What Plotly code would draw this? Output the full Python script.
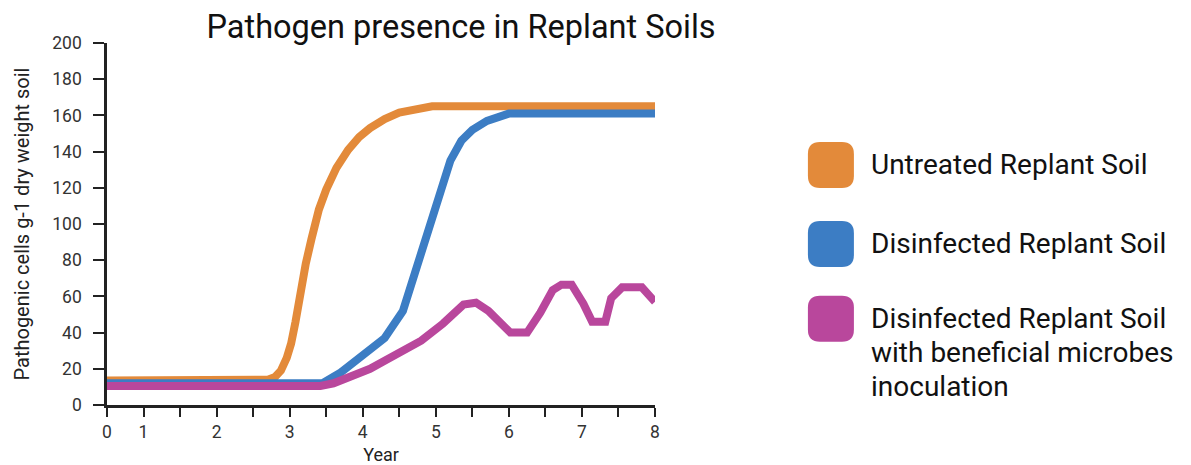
import plotly.graph_objects as go

# series
series_names = ["Untreated Replant Soil",
                "Disinfected Replant Soil",
                "Disinfected Replant Soil<br>with beneficial microbes<br>inoculation"]
colors = ["#E38A3A", "#3C7DC4", "#B9479C"]

untreated_year = [0.5, 2.6, 2.7, 2.8, 2.88, 2.96, 3.02, 3.08, 3.16, 3.22, 3.3, 3.4, 3.5,
                  3.64, 3.8, 3.95, 4.1, 4.3, 4.5, 4.7, 4.95, 8.0]
untreated_cells = [13.5, 13.5, 14, 15.5, 19, 26, 34, 46, 66, 78, 92, 108, 119,
                   131, 141, 148, 153, 158, 161.5, 163.5, 165, 165]

disinfected_year = [0.5, 3.45, 3.7, 4.0, 4.3, 4.55, 4.75, 5.0, 5.2, 5.35, 5.5, 5.7, 6.0, 8.0]
disinfected_cells = [12, 12, 18, 27, 37, 52, 78, 112, 135, 146, 152, 157, 161, 161]

inoculated_year = [0.5, 3.42, 3.6, 3.85, 4.1, 4.3, 4.55, 4.8, 5.1, 5.38, 5.55, 5.72, 6.02,
                   6.25, 6.43, 6.6, 6.72, 6.86, 7.02, 7.14, 7.32, 7.4, 7.55, 7.82, 8.0]
inoculated_cells = [10.5, 10.5, 12, 15.5, 20, 24.5, 30, 35.5, 45, 55.5, 56.5, 52, 40,
                    40, 51, 63.5, 66.5, 66.5, 56, 46, 46, 59, 65, 65, 57]

x_tickvals = [0.5, 1, 2, 3, 4, 5, 6, 7, 8]
x_ticktext = ["0", "1", "2", "3", "4", "5", "6", "7", "8"]
y_tickvals = list(range(0, 201, 20))

years = [untreated_year, disinfected_year, inoculated_year]
cells = [untreated_cells, disinfected_cells, inoculated_cells]

fig = go.Figure()
for name, c, xs, ys in zip(series_names, colors, years, cells):
    fig.add_trace(go.Scatter(x=xs, y=ys, mode="lines", name=name.replace("<br>", " "),
                             line=dict(color=c, width=8), showlegend=False))

# custom legend: rounded swatches + big labels
sq_x = 1.321
txt_x = 1.391
sq_y = [0.663, 0.445, 0.238]
r = 12
h = 23
path = ("M -{h},-{a} Q -{h},-{h} -{a},-{h} L {a},-{h} Q {h},-{h} {h},-{a} "
        "L {h},{a} Q {h},{h} {a},{h} L -{a},{h} Q -{h},{h} -{h},{a} Z").format(h=h, a=h - r)
for c, ys in zip(colors, sq_y):
    fig.add_shape(type="path", path=path, xref="paper", yref="paper",
                  xsizemode="pixel", ysizemode="pixel", xanchor=sq_x, yanchor=ys,
                  fillcolor=c, line=dict(width=0))
for name, ys in zip(series_names, sq_y):
    for i, line in enumerate(name.split("<br>")):
        fig.add_annotation(text=line, xref="paper", yref="paper", x=txt_x, y=ys,
                           yshift=-34 * i, xanchor="left", yanchor="middle", align="left",
                           showarrow=False, font=dict(family="Roboto", size=28, color="#111"))

# page body has an 8px margin, so the figure is 8px smaller and margins shifted
fig.update_layout(
    width=1183, height=457,
    margin=dict(l=99, r=536, t=35, b=60),
    paper_bgcolor="white", plot_bgcolor="white",
    font=dict(family="Roboto", color="#222"),
    title=dict(text="Pathogen presence in Replant Soils", x=0.383, xanchor="center",
               y=0.96, yanchor="middle", yref="container",
               font=dict(family="Roboto", size=32.5, color="#111")),
)
fig.update_xaxes(range=[0.5, 8], tickvals=x_tickvals, ticktext=x_ticktext, automargin=False,
                 showgrid=False, zeroline=False, showline=True, linecolor="#222", linewidth=2.5,
                 ticks="outside", ticklen=9, tickwidth=1.5, tickcolor="#222",
                 minor=dict(ticks="outside", dtick=0.5, tick0=0.5, ticklen=9, tickwidth=1.5,
                            tickcolor="#222", showgrid=False),
                 tickfont=dict(size=17.5, color="#333"), ticklabelstandoff=0,
                 title=dict(text="Year", font=dict(size=18, color="#222"), standoff=9))
fig.update_yaxes(range=[0, 200], tickvals=y_tickvals, automargin=False,
                 showgrid=False, zeroline=False, showline=True, linecolor="#222", linewidth=2.5,
                 ticks="outside", ticklen=11, tickwidth=1.5, tickcolor="#222",
                 tickfont=dict(size=17.5, color="#333"), ticklabelstandoff=8,
                 title=dict(text="Pathogenic cells g-1 dry weight soil",
                            font=dict(size=20, color="#222"), standoff=18))

fig.write_html("out.html")
